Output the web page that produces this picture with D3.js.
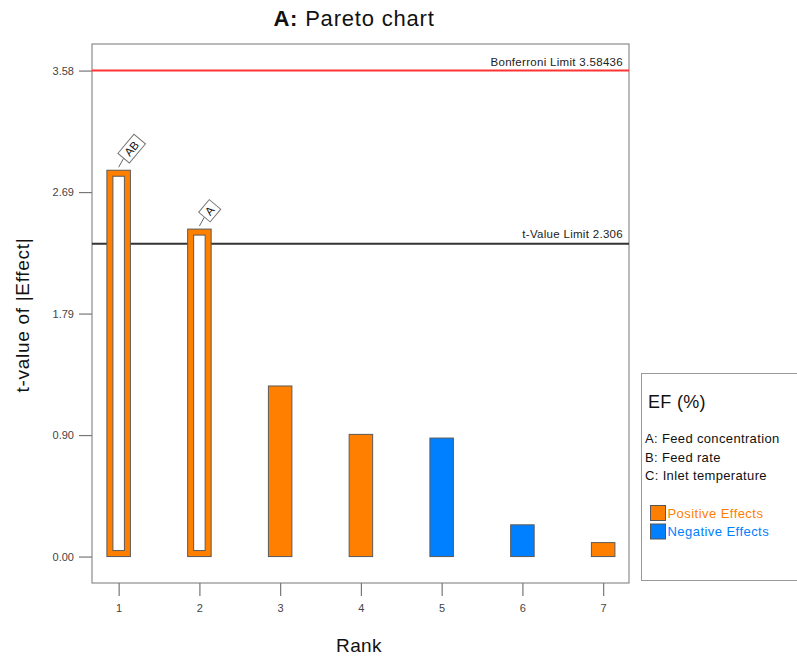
<!DOCTYPE html>
<html>
<head>
<meta charset="utf-8">
<script src="https://cdn.jsdelivr.net/npm/d3@7"></script>
<style>
  body { margin: 0; background: #fff; }
  svg { font-family: "Liberation Sans", Arial, sans-serif; }
</style>
</head>
<body>
<svg id="chart" width="797" height="660"></svg>
<script>
// Pareto chart data
var ranks = [1, 2, 3, 4, 5, 6, 7];
var tValues = [2.849, 2.415, 1.258, 0.901, 0.874, 0.234, 0.103];
var effectSign = ["pos", "pos", "pos", "pos", "neg", "neg", "pos"];
var termLabels = ["AB", "A", "", "", "", "", ""];
var yTicks = [0, 0.896, 1.792, 2.688, 3.584];
var bonferroniLimit = 3.58436;
var tValueLimit = 2.306;
var factorNames = ["A: Feed concentration", "B: Feed rate", "C: Inlet temperature"];
var legendItems = ["Positive Effects", "Negative Effects"];

var colors = { pos: "#ff8000", neg: "#0080ff" };

var svg = d3.select("#chart");

// plot frame (note: "top" is taken by window.top)
var plotLeft = 92, plotTop = 44, plotRight = 629, plotBottom = 583;

var xScale = d3.scaleLinear()
    .domain([0.67, 7.32])
    .range([plotLeft, plotRight]);

var yScale = d3.scaleLinear()
    .domain([-0.195, 3.78])
    .range([plotBottom, plotTop]);

var barWidth = 23.5;

// frame
svg.append("rect")
    .attr("x", plotLeft)
    .attr("y", plotTop)
    .attr("width", plotRight - plotLeft)
    .attr("height", plotBottom - plotTop)
    .attr("fill", "none")
    .attr("stroke", "#8c8c8c")
    .attr("stroke-width", 1.2);

// axes
var yAxis = d3.axisLeft(yScale)
    .tickValues(yTicks)
    .tickSize(13)
    .tickPadding(5)
    .tickFormat(d3.format(".2f"));

var xAxis = d3.axisBottom(xScale)
    .tickValues(ranks)
    .tickSize(13)
    .tickPadding(8)
    .tickFormat(d3.format("d"));

var gy = svg.append("g")
    .attr("transform", "translate(" + plotLeft + ",0)")
    .call(yAxis);

var gx = svg.append("g")
    .attr("transform", "translate(0," + plotBottom + ")")
    .call(xAxis);

[gx, gy].forEach(function (g) {
    g.select(".domain").remove();
    g.selectAll(".tick line").attr("stroke", "#777").attr("stroke-width", 1.2);
    g.selectAll(".tick text")
        .attr("fill", "#444")
        .style("font-size", "11px")
        .style("font-family", "'Liberation Sans', Arial, sans-serif");
});

// limit lines
svg.append("line")
    .attr("x1", plotLeft).attr("x2", plotRight)
    .attr("y1", yScale(bonferroniLimit)).attr("y2", yScale(bonferroniLimit))
    .attr("stroke", "#ff3333")
    .attr("stroke-width", 2);

svg.append("line")
    .attr("x1", plotLeft).attr("x2", plotRight)
    .attr("y1", yScale(tValueLimit)).attr("y2", yScale(tValueLimit))
    .attr("stroke", "#333")
    .attr("stroke-width", 2);

svg.append("text")
    .attr("x", plotRight - 6)
    .attr("y", yScale(bonferroniLimit) - 5)
    .attr("text-anchor", "end")
    .attr("fill", "#222")
    .style("font-size", "11.5px")
    .style("letter-spacing", "0.3px")
    .text("Bonferroni Limit " + bonferroniLimit);

svg.append("text")
    .attr("x", plotRight - 6)
    .attr("y", yScale(tValueLimit) - 6)
    .attr("text-anchor", "end")
    .attr("fill", "#222")
    .style("font-size", "11.5px")
    .style("letter-spacing", "0.3px")
    .text("t-Value Limit " + tValueLimit);

// bars
var barData = ranks.map(function (r, i) {
    return { rank: r, value: tValues[i], sign: effectSign[i], label: termLabels[i] };
});

var bars = svg.append("g").selectAll("g")
    .data(barData)
    .enter()
    .append("g");

bars.append("rect")
    .attr("x", function (d) { return xScale(d.rank) - barWidth / 2; })
    .attr("y", function (d) { return yScale(d.value); })
    .attr("width", barWidth)
    .attr("height", function (d) { return yScale(0) - yScale(d.value); })
    .attr("fill", function (d) { return colors[d.sign]; })
    .attr("stroke", "#5a5a5a")
    .attr("stroke-width", 1);

// significant bars are drawn hollow
var inset = 6;
bars.filter(function (d) { return d.value > tValueLimit; })
    .append("rect")
    .attr("x", function (d) { return xScale(d.rank) - barWidth / 2 + inset; })
    .attr("y", function (d) { return yScale(d.value) + inset; })
    .attr("width", barWidth - 2 * inset)
    .attr("height", function (d) { return yScale(0) - yScale(d.value) - 2 * inset; })
    .attr("fill", "#fff")
    .attr("stroke", "#5a5a5a")
    .attr("stroke-width", 1);

// term labels in rotated boxes
var labelled = bars.filter(function (d) { return d.label !== ""; });

labelled.append("line")
    .attr("x1", function (d) { return xScale(d.rank); })
    .attr("y1", function (d) { return yScale(d.value) - 3; })
    .attr("x2", function (d) { return xScale(d.rank) + 5; })
    .attr("y2", function (d) { return yScale(d.value) - 12; })
    .attr("stroke", "#666")
    .attr("stroke-width", 1);

var tag = labelled.append("g")
    .attr("transform", function (d) {
        return "translate(" + (xScale(d.rank) + 5) + "," + (yScale(d.value) - 12) + ") rotate(-50)";
    });

tag.each(function (d) {
    var g = d3.select(this);
    var w = d.label.length * 8.5 + 8;
    g.append("rect")
        .attr("x", 0)
        .attr("y", -7.5)
        .attr("width", w)
        .attr("height", 15)
        .attr("fill", "#fff")
        .attr("stroke", "#777")
        .attr("stroke-width", 1);
    g.append("text")
        .attr("x", w / 2)
        .attr("y", 4)
        .attr("text-anchor", "middle")
        .attr("fill", "#111")
        .style("font-size", "11.5px")
        .text(d.label);
});

// titles
var title = svg.append("text")
    .attr("x", 354)
    .attr("y", 26)
    .attr("text-anchor", "middle")
    .attr("fill", "#111")
    .style("font-size", "22px")
    .style("letter-spacing", "0.8px");
title.append("tspan").style("font-weight", "bold").text("A:");
title.append("tspan").text(" Pareto chart");

svg.append("text")
    .attr("transform", "translate(29,315) rotate(-90)")
    .attr("text-anchor", "middle")
    .attr("fill", "#111")
    .style("font-size", "19px")
    .style("letter-spacing", "0.7px")
    .text("t-value of |Effect|");

svg.append("text")
    .attr("x", 359)
    .attr("y", 652)
    .attr("text-anchor", "middle")
    .attr("fill", "#111")
    .style("font-size", "19px")
    .style("letter-spacing", "0.4px")
    .text("Rank");

// legend
var legend = svg.append("g");

legend.append("rect")
    .attr("x", 641.5)
    .attr("y", 373.5)
    .attr("width", 170)
    .attr("height", 207)
    .attr("fill", "#fff")
    .attr("stroke", "#999")
    .attr("stroke-width", 1);

legend.append("text")
    .attr("x", 648)
    .attr("y", 408)
    .attr("fill", "#111")
    .style("font-size", "18px")
    .style("letter-spacing", "0.3px")
    .text("EF (%)");

legend.selectAll(".factor")
    .data(factorNames)
    .enter()
    .append("text")
    .attr("class", "factor")
    .attr("x", 645)
    .attr("y", function (d, i) { return 443 + i * 18.5; })
    .attr("fill", "#111")
    .style("font-size", "13px")
    .style("letter-spacing", "0.35px")
    .text(function (d) { return d; });

var signKeys = ["pos", "neg"];

legend.selectAll(".swatch")
    .data(legendItems)
    .enter()
    .append("rect")
    .attr("class", "swatch")
    .attr("x", 650.5)
    .attr("y", function (d, i) { return 505.5 + i * 18.5; })
    .attr("width", 15)
    .attr("height", 15)
    .attr("fill", function (d, i) { return colors[signKeys[i]]; })
    .attr("stroke", "#555")
    .attr("stroke-width", 1);

legend.selectAll(".key")
    .data(legendItems)
    .enter()
    .append("text")
    .attr("class", "key")
    .attr("x", 667.5)
    .attr("y", function (d, i) { return 517.5 + i * 18.5; })
    .attr("fill", function (d, i) { return colors[signKeys[i]]; })
    .style("font-size", "13px")
    .style("letter-spacing", "0.45px")
    .text(function (d) { return d; });
</script>
</body>
</html>
